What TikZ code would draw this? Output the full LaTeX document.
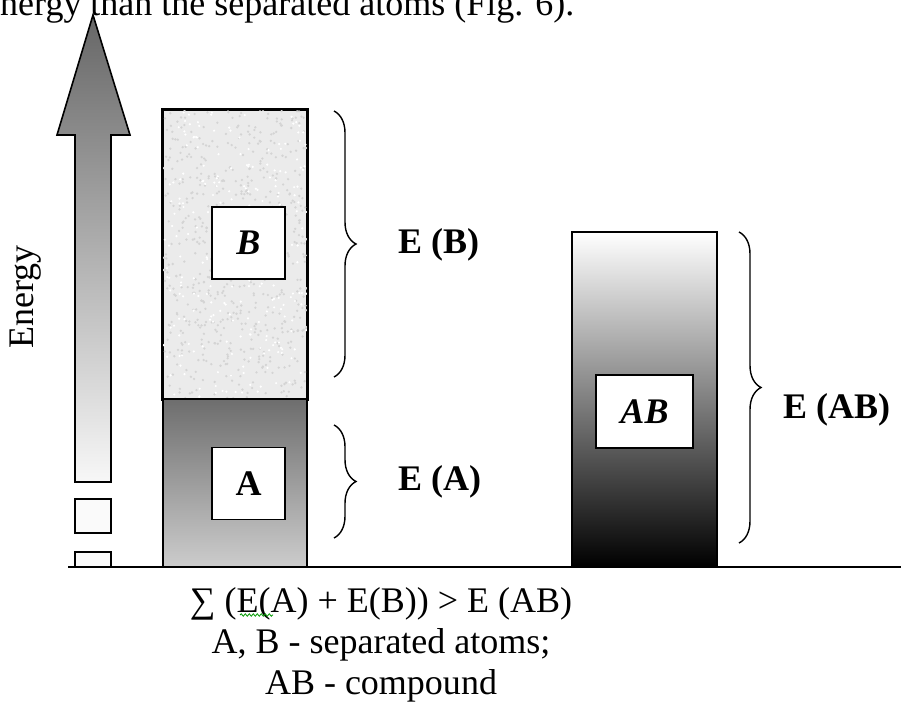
\documentclass[tikz,border=0pt]{standalone}
\usepackage{fontspec}
\setmainfont{Liberation Serif}
\usetikzlibrary{decorations.pathreplacing, decorations.pathmorphing, calc}

\begin{document}
\begin{tikzpicture}[
  x=1pt, y=-1pt,
  every node/.style={font=\fontsize{36}{42}\selectfont, inner sep=0pt},
  lbl/.style={font=\fontsize{36}{42}\selectfont\bfseries, anchor=west},
  atombox/.style={draw, line width=1.6pt, fill=white, minimum height=72pt, font=\fontsize{36}{42}\selectfont\bfseries},
  barpart/.style={draw, line width=1.6pt, minimum width=144pt},
  brc/.style={decorate, decoration={brace, amplitude=22pt, aspect=0.5}, line width=1.4pt}
]
\useasboundingbox (0,0) rectangle (901,704);

% caption line cut at the top
\node[anchor=base west] (intro) at (0,15) {nergy than the separated atoms (Fig. 6).};

% energy axis
\draw[line width=1.6pt, top color=black!60, bottom color=black!3]
  (93,15) -- (130,135) -- (111,135) -- (111,482) -- (75,482) -- (75,135) -- (57,135) -- cycle;
\node[draw, line width=1.6pt, fill=black!2, minimum width=36pt, minimum height=34pt] (sq1) at (93,516) {};
\node[draw, line width=1.6pt, fill=black!2, minimum width=36pt, minimum height=15pt] (sq2) at (93,559.5) {};
\node[rotate=90] (energy) at (26,297) {Energy};

% separated atoms
\node[barpart, fill=black!8, minimum height=289pt] (partB) at (235,254.5) {};
\begin{scope}
  \clip (163,110) rectangle (307,399);
  \pgfmathsetseed{11}
  \foreach \i in {1,...,600}
    \fill[black!17] ({235+72*rand},{254.5+145*rand}) circle (1.3);
  \foreach \i in {1,...,250}
    \fill[white] ({235+72*rand},{254.5+145*rand}) circle (1.2);
\end{scope}
\draw[line width=1.6pt] (partB.north west) rectangle (partB.south east);
\node[barpart, top color=black!57, bottom color=black!20, minimum height=168pt] (partA) at (235,483) {};
\node[atombox, minimum width=73pt] (boxB) at (248.5,243) {\itshape B};
\node[atombox, minimum width=73pt] (boxA) at (248.5,483.5) {A};

% compound
\node[barpart, top color=white, middle color=black!35, bottom color=black, minimum width=145pt, minimum height=335pt] (barAB) at (644.5,399.5) {};
\node[atombox, minimum width=97pt, minimum height=73pt] (boxAB) at (644.5,411.5) {\itshape AB};

% baseline
\coordinate (axisL) at (68,567);
\coordinate (axisR) at (901,567);
\draw[line width=1.6pt] (axisL) -- (axisR);

% braces and labels
\coordinate (bBt) at (334,111);
\coordinate (bBb) at (334,377);
\coordinate (bAt) at (334,425);
\coordinate (bAb) at (334,538);
\coordinate (bABt) at (739,232);
\coordinate (bABb) at (739,543);
\draw[brc] (bBt) -- (bBb);
\draw[brc] (bAt) -- (bAb);
\draw[brc] (bABt) -- (bABb);
\node[lbl] (eB) at (398,245) {E (B)};
\node[lbl] (eA) at (398,482) {E (A)};
\node[lbl] (eAB) at (783,410) {E (AB)};

% relation
\node[anchor=base] (rel1) at (381,612) {∑ (E(A) + E(B)) > E (AB)};
\node[anchor=base] (rel2) at (381,653) {A, B - separated atoms;};
\node[anchor=base] (rel3) at (381,694) {AB - compound};
\coordinate (sqL) at (240,615);
\coordinate (sqR) at (273,615);
\draw[green!60!black, line width=0.8pt, decorate, decoration={snake, amplitude=1.2pt, segment length=4pt}] (sqL) -- (sqR);

\end{tikzpicture}
\end{document}
